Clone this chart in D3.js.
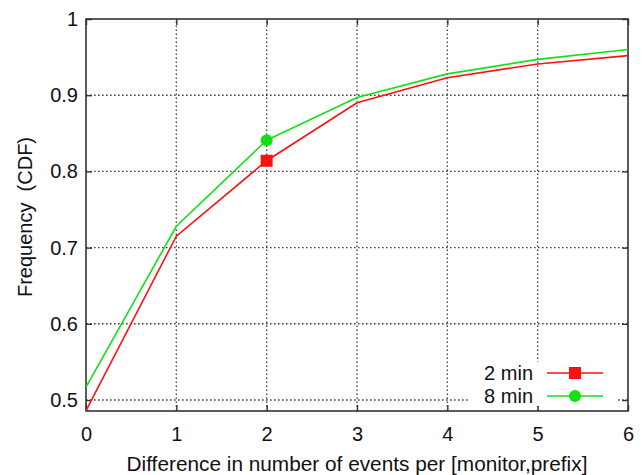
<!DOCTYPE html>
<html>
<head>
<meta charset="utf-8">
<script src="https://cdn.jsdelivr.net/npm/d3@7"></script>
<style>
  html, body { margin: 0; padding: 0; background: #fff; }
  svg { display: block; font-family: "Liberation Sans", Arial, Helvetica, sans-serif; }
</style>
</head>
<body>
<svg id="chart" width="644" height="475"></svg>
<script>
// Difference in number of events per [monitor,prefix], CDF
const xValues = [0, 1, 2, 3, 4, 5, 6];
const series2min = [0.486, 0.715, 0.814, 0.890, 0.923, 0.941, 0.952];
const series8min = [0.517, 0.728, 0.841, 0.897, 0.928, 0.947, 0.960];
const seriesNames = ["2 min", "8 min"];
const xTicks = [0, 1, 2, 3, 4, 5, 6];
const yTicks = [0.5, 0.6, 0.7, 0.8, 0.9, 1];
const markerIndex = 2;

const svg = d3.select("#chart");
const margin = { left: 86, right: 16, top: 19, bottom: 64 };
const W = 644, H = 475;
const fontMain = "20px";

const x = d3.scaleLinear().domain([0, 6]).range([margin.left, W - margin.right]);
const y = d3.scaleLinear().domain([0.4856, 1]).range([H - margin.bottom, margin.top]);

const axisColor = "#333";
const gridColor = "#444";

// grid
const grid = svg.append("g");
grid.selectAll("line.gx").data(xTicks.filter(d => d > 0 && d < 6)).join("line")
  .attr("x1", d => x(d)).attr("x2", d => x(d))
  .attr("y1", y.range()[0]).attr("y2", y.range()[1])
  .attr("stroke", gridColor).attr("stroke-width", 1.4).attr("stroke-dasharray", "1.6,2.4");
grid.selectAll("line.gy").data(yTicks.filter(d => d < 1)).join("line")
  .attr("x1", x.range()[0]).attr("x2", x.range()[1])
  .attr("y1", d => y(d)).attr("y2", d => y(d))
  .attr("stroke", gridColor).attr("stroke-width", 1.4).attr("stroke-dasharray", "1.6,2.4");

// axes with inward ticks on all sides
const tickLen = 6;
const axisBottomG = svg.append("g").attr("transform", `translate(0,${y.range()[0]})`)
  .call(d3.axisBottom(x).tickValues(xTicks).tickSizeInner(-tickLen).tickSizeOuter(0).tickPadding(16).tickFormat(d3.format("d")));
const axisTopG = svg.append("g").attr("transform", `translate(0,${y.range()[1]})`)
  .call(d3.axisTop(x).tickValues(xTicks).tickSizeInner(-tickLen).tickSizeOuter(0).tickFormat(""));
const axisLeftG = svg.append("g").attr("transform", `translate(${x.range()[0]},0)`)
  .call(d3.axisLeft(y).tickValues(yTicks).tickSizeInner(-tickLen).tickSizeOuter(0).tickPadding(8).tickFormat(d => d === 1 ? "1" : d3.format(".1f")(d)));
const axisRightG = svg.append("g").attr("transform", `translate(${x.range()[1]},0)`)
  .call(d3.axisRight(y).tickValues(yTicks).tickSizeInner(-tickLen).tickSizeOuter(0).tickFormat(""));

[axisBottomG, axisTopG, axisLeftG, axisRightG].forEach(g => {
  g.select(".domain").remove();
  g.selectAll(".tick line").attr("stroke", axisColor).attr("stroke-width", 1.4);
  g.selectAll(".tick text").attr("fill", "#111").style("font-size", fontMain)
    .style("font-family", "'Liberation Sans', Arial, sans-serif");
});

// frame
svg.append("rect")
  .attr("x", x.range()[0]).attr("y", y.range()[1])
  .attr("width", x.range()[1] - x.range()[0]).attr("height", y.range()[0] - y.range()[1])
  .attr("fill", "none").attr("stroke", axisColor).attr("stroke-width", 1.6);

// series
const colors = ["#ff1010", "#14e014"];
const allSeries = [series2min, series8min];
const line = d3.line().x((d, i) => x(xValues[i])).y(d => y(d));

const clipId = "plotclip";
svg.append("clipPath").attr("id", clipId).append("rect")
  .attr("x", x.range()[0]).attr("y", y.range()[1])
  .attr("width", x.range()[1] - x.range()[0]).attr("height", y.range()[0] - y.range()[1]);

const plot = svg.append("g").attr("clip-path", `url(#${clipId})`);
allSeries.forEach((s, k) => {
  plot.append("path").datum(s).attr("d", line)
    .attr("fill", "none").attr("stroke", colors[k]).attr("stroke-width", 1.6);
});

function drawMarker(g, k, cx, cy) {
  if (k === 0) {
    g.append("rect").attr("x", cx - 6).attr("y", cy - 6).attr("width", 12).attr("height", 12)
      .attr("fill", colors[k]);
  } else {
    g.append("circle").attr("cx", cx).attr("cy", cy).attr("r", 6).attr("fill", colors[k]);
  }
}
allSeries.forEach((s, k) => drawMarker(svg, k, x(xValues[markerIndex]), y(s[markerIndex])));

// legend
const legend = svg.append("g");
legend.append("rect").attr("x", 468).attr("y", 362).attr("width", 148).attr("height", 44).attr("fill", "#fff");
seriesNames.forEach((name, k) => {
  const ly = 373 + k * 23;
  legend.append("text").attr("x", 533).attr("y", ly).attr("dy", "0.35em")
    .attr("text-anchor", "end").style("font-size", fontMain).attr("fill", "#111").text(name);
  legend.append("line").attr("x1", 547).attr("x2", 603).attr("y1", ly).attr("y2", ly)
    .attr("stroke", colors[k]).attr("stroke-width", 1.6);
  drawMarker(legend, k, 575, ly);
});

// axis titles
svg.append("text").attr("x", (x.range()[0] + x.range()[1]) / 2).attr("y", 471)
  .attr("text-anchor", "middle").style("font-size", "20.8px").attr("fill", "#111")
  .text("Difference in number of events per [monitor,prefix]");
svg.append("text")
  .attr("transform", `translate(32,217) rotate(-90)`)
  .attr("text-anchor", "middle").style("font-size", fontMain).attr("fill", "#111")
  .attr("xml:space", "preserve")
  .text("Frequency  (CDF)");
</script>
</body>
</html>
